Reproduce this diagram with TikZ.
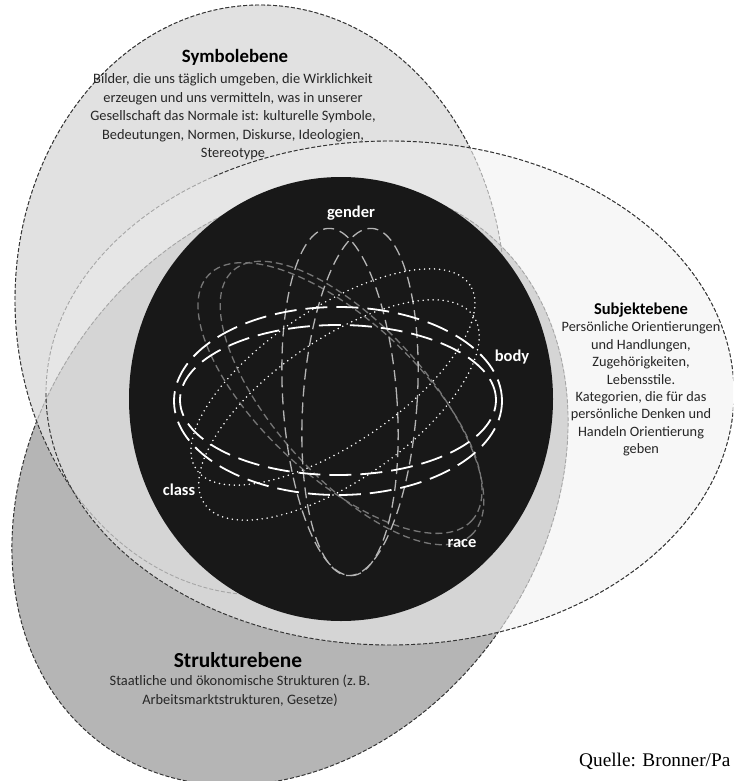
\documentclass[tikz,border=0pt]{standalone}
\usepackage{fontspec}
\setmainfont{Carlito}
\newfontfamily\quellefont{Liberation Serif}
\definecolor{eone}{HTML}{E1E1E1}
\definecolor{etwo}{HTML}{F7F7F7}
\definecolor{eonetwo}{HTML}{E6E6E6}
\definecolor{ethree}{HTML}{B5B5B5}
\definecolor{band}{HTML}{D5D5D5}
\definecolor{bordercol}{HTML}{333333}
\definecolor{faintcol}{HTML}{A6A6A6}
\definecolor{circcol}{HTML}{181818}
\definecolor{gendercol}{HTML}{B4B4B4}
\definecolor{racecol}{HTML}{767676}
\definecolor{textcol}{HTML}{262626}
\begin{document}
\begin{tikzpicture}[x=1pt,y=1pt,
  border/.style={line width=0.9pt, dash pattern=on 4pt off 2pt, draw=bordercol},
  faint/.style={line width=0.9pt, dash pattern=on 4pt off 2pt, draw=faintcol},
  gendl/.style={draw=gendercol, line width=1.3pt, dash pattern=on 11pt off 6pt},
  bodyl/.style={draw=white, line width=1.8pt, dash pattern=on 22pt off 9pt},
  racel/.style={draw=racecol, line width=1.3pt, dash pattern=on 7pt off 4pt},
  classl/.style={draw=white, line width=1.7pt, dash pattern=on 0pt off 5pt, line cap=round},
  lab/.style={text=white, font=\bfseries\fontsize{16.5}{18}\selectfont, inner sep=0pt},
  ttl/.style={text=black, font=\bfseries, inner sep=0pt},
  bdy/.style={text=textcol, align=center, inner sep=0pt}
]
\useasboundingbox (0,0) rectangle (733,-781);
\clip (0,0) rectangle (733,-781);
\fill[white] (0,0) rectangle (733,-781);

% area fills
\fill[eone] (260,-300) ellipse [x radius=245, y radius=295];
\fill[etwo] (390,-393) ellipse [x radius=344, y radius=252];
\begin{scope}
  \clip (260,-300) ellipse [x radius=245, y radius=295];
  \fill[eonetwo] (390,-393) ellipse [x radius=344, y radius=252];
\end{scope}
\fill[ethree, rotate around={55:(290,-485)}] (290,-485) ellipse [x radius=320, y radius=255];
\begin{scope}
  \clip[rotate around={55:(290,-485)}] (290,-485) ellipse [x radius=320, y radius=255];
  \fill[band] (260,-300) ellipse [x radius=245, y radius=295];
  \fill[band] (390,-393) ellipse [x radius=344, y radius=252];
\end{scope}

% borders
\draw[faint, rotate around={55:(290,-485)}] (290,-485) ellipse [x radius=320, y radius=255];
\begin{scope}[even odd rule]
  \clip (0,0) rectangle (733,-781) (260,-300) ellipse [x radius=245, y radius=295];
  \clip (0,0) rectangle (733,-781) (390,-393) ellipse [x radius=344, y radius=252];
  \draw[border, rotate around={55:(290,-485)}] (290,-485) ellipse [x radius=320, y radius=255];
\end{scope}
\draw[faint] (260,-300) ellipse [x radius=245, y radius=295];
\begin{scope}[even odd rule]
  \clip (0,0) rectangle (733,-781) (390,-393) ellipse [x radius=344, y radius=252];
  \draw[border] (260,-300) ellipse [x radius=245, y radius=295];
\end{scope}
% Subjektebene border: faint on its upper left part inside the Symbolebene area
\draw[faint] (390,-393) ellipse [x radius=344, y radius=252];
\begin{scope}
  \clip (212,0) rectangle (733,-781);
  \draw[border] (390,-393) ellipse [x radius=344, y radius=252];
\end{scope}
\begin{scope}
  \clip (0,-392) rectangle (212,-781);
  \draw[border] (390,-393) ellipse [x radius=344, y radius=252];
\end{scope}

% black circle
\fill[circcol] (341,-399) ellipse [x radius=212, y radius=222];

% race
\draw[racel, rotate around={-43:(340,-398)}] (340,-398) ellipse [x radius=180, y radius=78];
\draw[racel, rotate around={-48:(352,-403)}] (352,-403) ellipse [x radius=178, y radius=76];
% gender
\draw[gendl, rotate around={4:(340,-402)}] (340,-402) ellipse [x radius=57, y radius=174];
\draw[gendl, rotate around={-4:(360,-402)}] (360,-402) ellipse [x radius=57, y radius=174];
% class
\draw[classl, rotate around={34:(333,-377)}] (333,-377) ellipse [x radius=165, y radius=68];
\draw[classl, rotate around={35:(339,-410)}] (339,-410) ellipse [x radius=164, y radius=70];
% body
\draw[bodyl] (338,-401) ellipse [x radius=164, y radius=94];
\draw[bodyl] (338,-400) ellipse [x radius=158, y radius=75];

% labels inside
\node[lab] (lgender) at (351,-213) {gender};
\node[lab] (lbody) at (512,-357) {body};
\node[lab] (lclass) at (179,-490) {class};
\node[lab] (lrace) at (462,-543) {race};

% texts
\node[ttl, font=\bfseries\fontsize{18.8}{22}\selectfont] (symt) at (235,-57) {Symbolebene};
\node[bdy, font=\fontsize{14.4}{18.5}\selectfont] (symb) at (233,-117)
  {Bilder, die uns täglich umgeben, die Wirklichkeit\\erzeugen und uns vermitteln, was in unserer\\Gesellschaft das Normale ist: kulturelle Symbole,\\Bedeutungen, Normen, Diskurse, Ideologien,\\Stereotype};

\node[ttl, font=\bfseries\fontsize{16.5}{20}\selectfont] (subt) at (641,-310) {Subjektebene};
\node[bdy, font=\fontsize{14.3}{17.4}\selectfont] (subb) at (641,-389)
  {Persönliche Orientierungen\\und Handlungen,\\Zugehörigkeiten,\\Lebensstile.\\Kategorien, die für das\\persönliche Denken und\\Handeln Orientierung\\geben};

\node[ttl, font=\bfseries\fontsize{21.4}{24}\selectfont] (strt) at (238,-660) {Strukturebene};
\node[bdy, font=\fontsize{14.4}{19}\selectfont] (strb) at (240,-691)
  {Staatliche und ökonomische Strukturen (z.\,B.\\Arbeitsmarktstrukturen, Gesetze)};

\node[anchor=base west, inner sep=0pt, font=\quellefont\fontsize{19.3}{24}\selectfont] (quelle) at (579,-766) {Quelle: Bronner/Pa};
\end{tikzpicture}
\end{document}
